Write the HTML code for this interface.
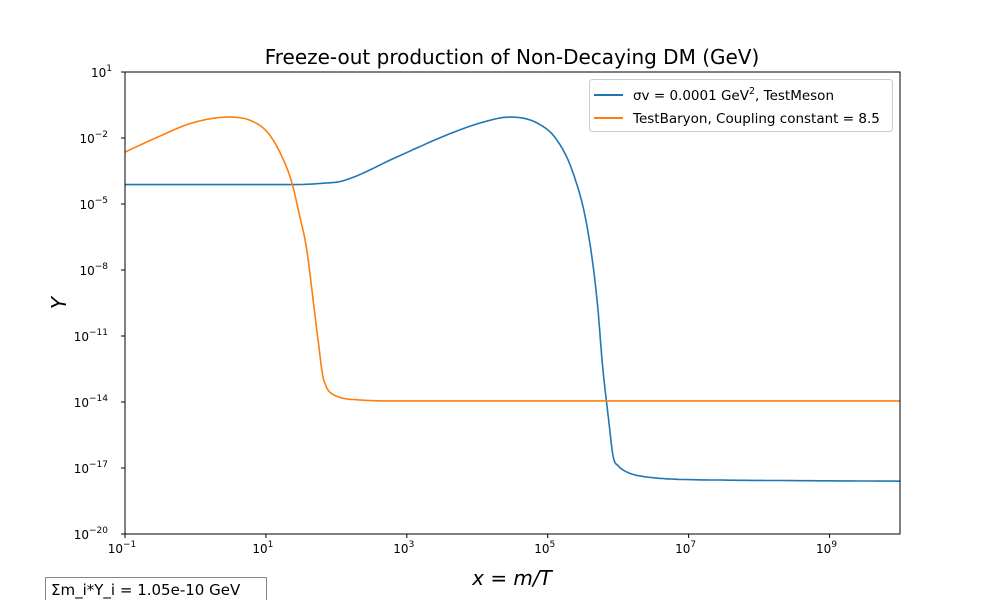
<!DOCTYPE html>
<html><head><meta charset="utf-8"><style>
body{margin:0;background:#fff;width:1000px;height:600px;overflow:hidden;font-family:"DejaVu Sans","Liberation Sans",sans-serif}
svg text{font-family:"DejaVu Sans","Liberation Sans",sans-serif}
</style></head><body>
<svg id="chart" width="1000" height="600" xmlns="http://www.w3.org/2000/svg">
<text x="512" y="64" font-size="20" text-anchor="middle">Freeze-out production of Non-Decaying DM (GeV)</text>
<g id="ticks"></g>
<g id="series"></g>
<rect x="125" y="72" width="775" height="462" fill="none" stroke="#000" stroke-width="1"/>
<text x="512" y="585" font-size="20" font-style="italic" text-anchor="middle">x = m/T</text>
<text x="0" y="0" font-size="20" font-style="italic" text-anchor="middle" transform="translate(66,303) rotate(-90)">Y</text>
<g>
<rect x="589.5" y="79.5" width="303" height="52" rx="3" fill="#fff" stroke="#ccc"/>
<line x1="594" y1="95" x2="623" y2="95" stroke="#1f77b4" stroke-width="2"/>
<text x="633" y="100" font-size="13.5">σv = 0.0001 GeV<tspan font-size="9.5" dy="-6">2</tspan><tspan dy="6">, TestMeson</tspan></text>
<line x1="594" y1="118" x2="623" y2="118" stroke="#ff7f0e" stroke-width="2"/>
<text x="633" y="123" font-size="13.5">TestBaryon, Coupling constant = 8.5</text>
</g>
<g>
<rect x="45.5" y="577.5" width="221" height="26" fill="#fff" stroke="#888"/>
<text x="51" y="595" font-size="15">Σm_i*Y_i = 1.05e-10 GeV</text>
</g>
</svg>
<script>
const xTicks=[-1,1,3,5,7,9];
const yTicks=[1,-2,-5,-8,-11,-14,-17,-20];
const mesonLogX=[-1,1.37,1.84,2.09,2.86,3.57,4.04,4.46,4.85,5.13,5.36,5.56,5.70,5.78,5.86,5.93,6.0,6.07,6.2,6.41,6.74,7.5,8.3,10];
const mesonLogY=[-4.12,-4.12,-4.05,-3.95,-2.86,-1.86,-1.32,-1.05,-1.32,-2.09,-3.59,-6.05,-9.36,-12.41,-14.68,-16.5,-16.9,-17.09,-17.28,-17.41,-17.5,-17.55,-17.57,-17.6];
const baryonLogX=[-1,-0.53,-0.05,0.46,0.8,1.03,1.23,1.37,1.46,1.58,1.67,1.74,1.81,1.85,1.88,1.95,2.08,2.3,2.69,4,6,8,10];
const baryonLogY=[-2.64,-1.95,-1.32,-1.05,-1.23,-1.77,-2.86,-4.05,-5.27,-7.09,-9.36,-11.18,-12.86,-13.25,-13.45,-13.65,-13.82,-13.9,-13.95,-13.95,-13.95,-13.95,-13.95];
const X=v=>125+(v+1)*775/11;
const Y=v=>72+(1-v)*462/21;
const NS="http://www.w3.org/2000/svg";
const tg=document.getElementById('ticks'), sg=document.getElementById('series');
function mk(t,a,p){const e=document.createElementNS(NS,t);for(const k in a)e.setAttribute(k,a[k]);p.appendChild(e);return e;}
function lbl(x,y,exp,anchor){const t=mk('text',{x:x,y:y,'font-size':12,'text-anchor':anchor},tg);t.textContent='10';const s=document.createElementNS(NS,'tspan');s.setAttribute('font-size','9');s.setAttribute('dy','-6');s.textContent=exp<0?'\u2212'+(-exp):String(exp);t.appendChild(s);return t;}
xTicks.forEach(v=>{const x=X(v);const l=mk('line',{x1:x,x2:x,y1:534,y2:538,stroke:'#000'},tg);


const t=lbl(x-3,553,v,'middle');

});
yTicks.forEach(v=>{const y=Y(v);const l=mk('line',{x1:121,x2:125,y1:y,y2:y,stroke:'#000'},tg);


const t=lbl(v<0?108:112,y+5,v,'end');

});
// monotone cubic (Fritsch-Carlson) smoothing between read points
function smooth(xs,ys){const n=xs.length,d=[],m=[];for(let i=0;i<n-1;i++)d.push((ys[i+1]-ys[i])/(xs[i+1]-xs[i]));
m[0]=d[0];m[n-1]=d[n-2];for(let i=1;i<n-1;i++)m[i]=(d[i-1]*d[i]<=0)?0:(d[i-1]+d[i])/2;
for(let i=0;i<n-1;i++){if(d[i]===0){m[i]=0;m[i+1]=0;continue;}const a=m[i]/d[i],b=m[i+1]/d[i],s=a*a+b*b;if(s>9){const t=3/Math.sqrt(s);m[i]=t*a*d[i];m[i+1]=t*b*d[i];}}
const out=[];for(let i=0;i<n-1;i++){const h=xs[i+1]-xs[i];const k=12;for(let j=0;j<k;j++){const t=j/k,t2=t*t,t3=t2*t;
const y=(2*t3-3*t2+1)*ys[i]+(t3-2*t2+t)*h*m[i]+(-2*t3+3*t2)*ys[i+1]+(t3-t2)*h*m[i+1];out.push([xs[i]+t*h,y]);}}
out.push([xs[n-1],ys[n-1]]);return out;}
function line(xs,ys,c,name){const pts=smooth(xs,ys);let d='';pts.forEach((p,i)=>{d+=(i?'L':'M')+X(p[0]).toFixed(1)+','+Y(p[1]).toFixed(1);});const p=mk('path',{d:d,fill:'none',stroke:c,'stroke-width':1.6,'stroke-linejoin':'round'},sg);

}
line(mesonLogX,mesonLogY,'#1f77b4','meson-line');
line(baryonLogX,baryonLogY,'#ff7f0e','baryon-line');
</script>
</body></html>
